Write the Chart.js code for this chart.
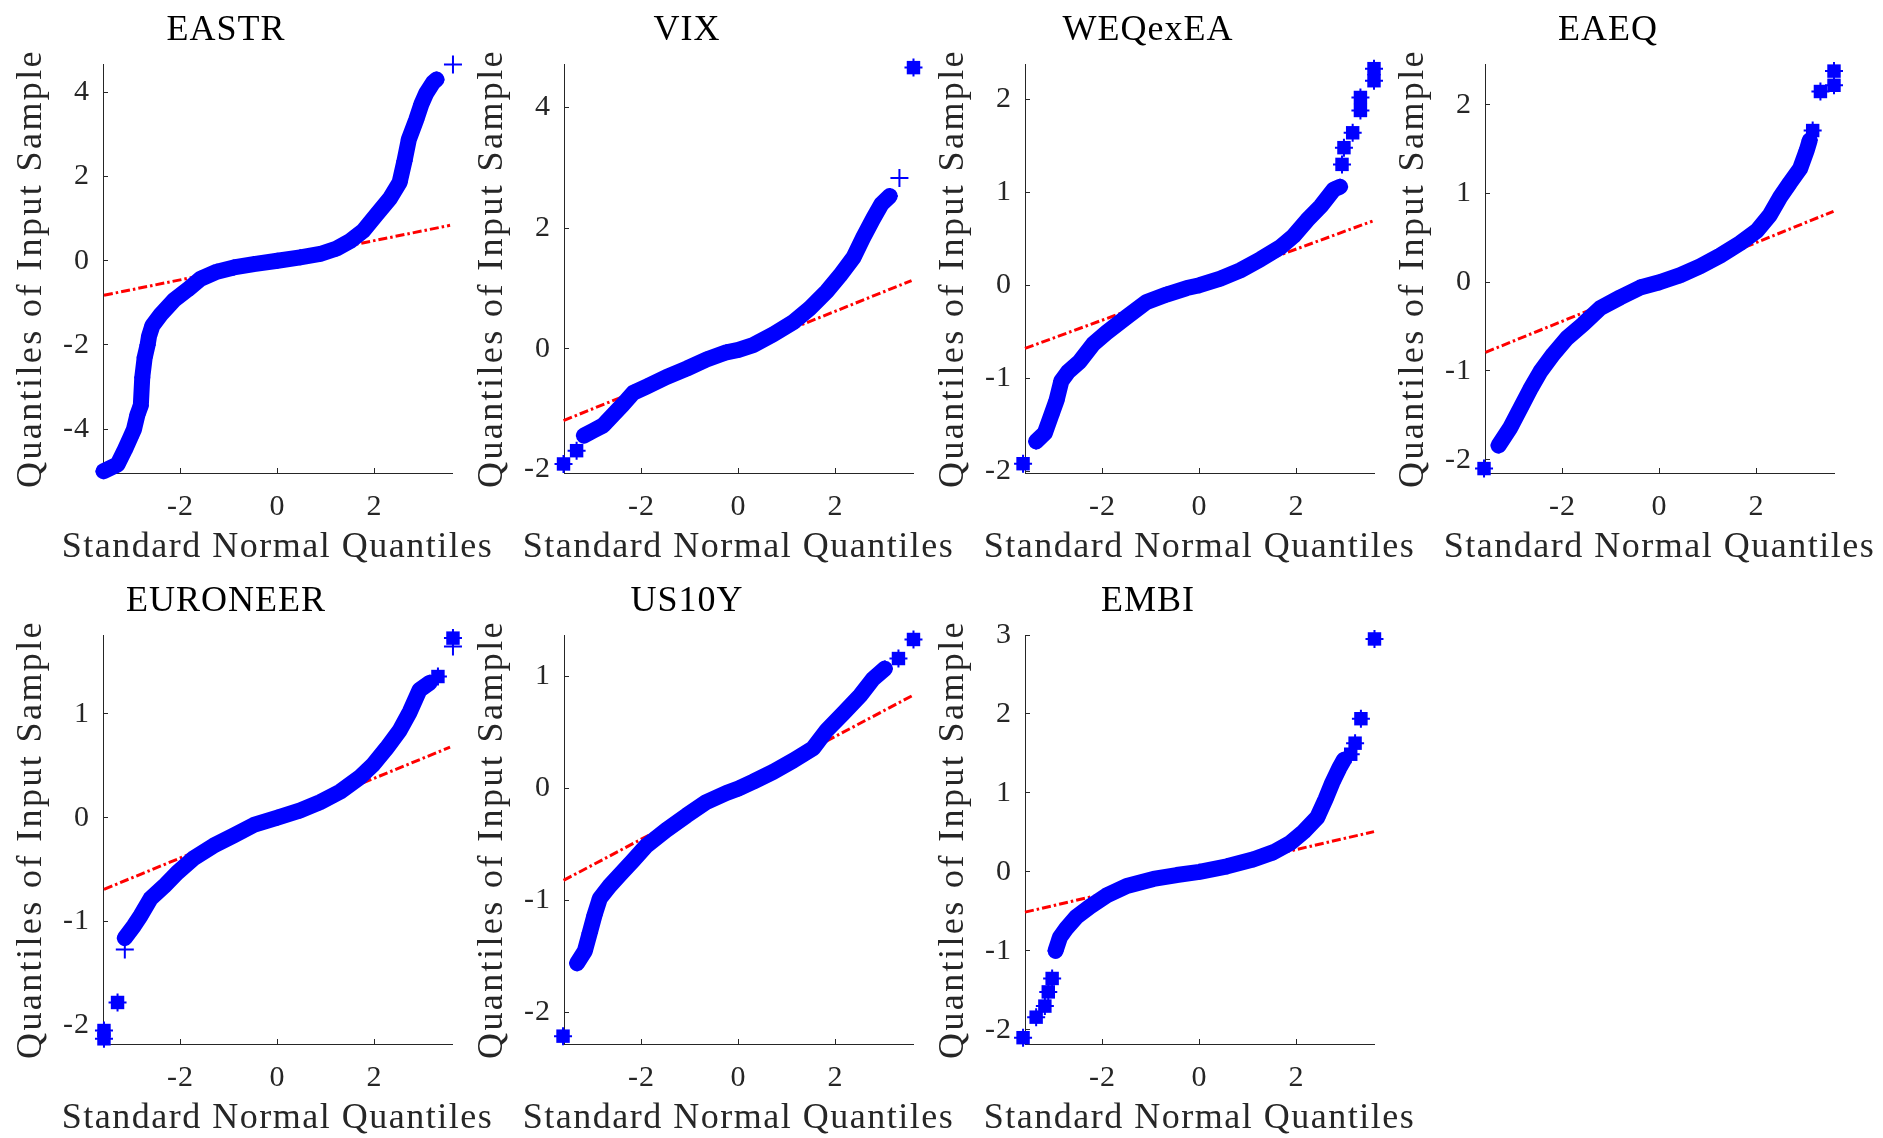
<!DOCTYPE html>
<html>
<head>
<meta charset="UTF-8">
<title>QQ plots</title>
<script src="https://cdn.jsdelivr.net/npm/chart.js@4.4.1/dist/chart.umd.min.js"></script>
<style>
  body { margin: 0; background: #ffffff; width: 1883px; height: 1138px; overflow: hidden; position: relative; }
  canvas { position: absolute; }
</style>
</head>
<body>
<script>
// Panel titles and axis labels
const titles = ['EASTR', 'VIX', 'WEQexEA', 'EAEQ', 'EURONEER', 'US10Y', 'EMBI'];
const xAxisLabel = 'Standard Normal Quantiles';
const yAxisLabel = 'Quantiles of Input Sample';

// x ticks shared by every panel
const xTickValues = [-2, 0, 2];
const xRange = [-3.6, 3.6];

// EASTR
const eastrBand = [[-3.59,-5.0],[-3.30,-4.84],[-3.15,-4.49],[-3.04,-4.21],[-2.96,-4.0],[-2.89,-3.66],[-2.82,-3.44],[-2.79,-2.77],[-2.74,-2.30],[-2.68,-2.0],[-2.65,-1.79],[-2.58,-1.54],[-2.41,-1.28],[-2.14,-0.94],[-1.86,-0.69],[-1.59,-0.43],[-1.25,-0.26],[-0.90,-0.16],[-0.49,-0.08],[0,0],[0.47,0.08],[0.88,0.16],[1.22,0.29],[1.49,0.46],[1.77,0.71],[2.04,1.09],[2.32,1.48],[2.52,1.86],[2.62,2.37],[2.71,2.88],[2.86,3.34],[2.97,3.72],[3.07,3.98],[3.21,4.23],[3.28,4.30]];
const eastrTail = [];
const eastrSingle = [[3.62,4.66]];
const eastrFit = [[-3.58,-0.82],[3.56,0.84]];
const eastrYTicks = [-4, -2, 0, 2, 4];
const eastrYRange = [-5.04, 4.67];

// VIX
const vixBand = [[-3.19,-1.44],[-3.0,-1.36],[-2.79,-1.27],[-2.59,-1.10],[-2.38,-0.92],[-2.17,-0.73],[-1.90,-0.63],[-1.49,-0.47],[-1.07,-0.33],[-0.66,-0.18],[-0.25,-0.06],[0,-0.02],[0.30,0.06],[0.72,0.24],[1.13,0.44],[1.47,0.67],[1.82,0.95],[2.09,1.21],[2.37,1.51],[2.57,1.84],[2.78,2.16],[2.95,2.40],[3.12,2.53]];
const vixTail = [[-3.61,-1.91],[-3.34,-1.69],[3.61,4.66]];
const vixSingle = [[3.32,2.83]];
const vixFit = [[-3.61,-1.19],[3.57,1.13]];
const vixYTicks = [-2, 0, 2, 4];
const vixYRange = [-2.06, 4.72];

// WEQexEA
const weqBand = [[-3.37,-1.68],[-3.19,-1.59],[-3.06,-1.40],[-2.95,-1.24],[-2.85,-1.03],[-2.71,-0.93],[-2.47,-0.82],[-2.19,-0.63],[-1.92,-0.51],[-1.50,-0.34],[-1.09,-0.18],[-0.68,-0.10],[-0.26,-0.03],[0,0],[0.43,0.07],[0.84,0.16],[1.26,0.28],[1.67,0.41],[1.94,0.53],[2.22,0.70],[2.50,0.85],[2.77,1.03],[2.90,1.06]];
const weqTail = [[-3.64,-1.92],[2.94,1.30],[2.98,1.48],[3.16,1.64],[3.32,2.02],[3.32,1.88],[3.60,2.33],[3.60,2.20]];
const weqSingle = [];
const weqFit = [[-3.6,-0.68],[3.57,0.69]];
const weqYTicks = [-2, -1, 0, 1, 2];
const weqYRange = [-2.02, 2.38];

// EAEQ
const eaeqBand = [[-3.32,-1.84],[-3.08,-1.64],[-2.87,-1.42],[-2.67,-1.21],[-2.46,-1.01],[-2.19,-0.81],[-1.91,-0.63],[-1.57,-0.47],[-1.22,-0.29],[-0.81,-0.17],[-0.40,-0.06],[0,0],[0.43,0.08],[0.84,0.18],[1.25,0.30],[1.66,0.44],[2.01,0.58],[2.28,0.76],[2.49,0.96],[2.69,1.12],[2.90,1.28],[3.04,1.49],[3.10,1.60]];
const eaeqTail = [[-3.62,-2.10],[3.16,1.71],[3.32,2.15],[3.60,2.38],[3.60,2.22]];
const eaeqSingle = [];
const eaeqFit = [[-3.59,-0.79],[3.59,0.80]];
const eaeqYTicks = [-2, -1, 0, 1, 2];
const eaeqYRange = [-2.15, 2.46];

// EURONEER
const euroBand = [[-3.15,-1.16],[-2.96,-1.04],[-2.82,-0.94],[-2.62,-0.78],[-2.34,-0.66],[-2.07,-0.53],[-1.73,-0.39],[-1.32,-0.27],[-0.90,-0.17],[-0.49,-0.07],[0,0],[0.47,0.07],[0.88,0.15],[1.29,0.25],[1.70,0.39],[1.97,0.51],[2.25,0.67],[2.52,0.84],[2.73,1.02],[2.93,1.23],[3.14,1.30]];
const euroTail = [[-3.58,-2.05],[-3.58,-2.13],[-3.30,-1.78],[3.31,1.36],[3.62,1.73],[3.62,1.65]];
const euroSingle = [[-3.15,-1.27]];
const euroFit = [[-3.58,-0.69],[3.56,0.68]];
const euroYTicks = [-2, -1, 0, 1];
const euroYRange = [-2.18, 1.76];

// US10Y
const usBand = [[-3.33,-1.56],[-3.17,-1.45],[-3.07,-1.29],[-2.97,-1.13],[-2.86,-0.98],[-2.66,-0.87],[-2.45,-0.77],[-2.17,-0.64],[-1.90,-0.51],[-1.49,-0.37],[-1.07,-0.24],[-0.66,-0.12],[-0.25,-0.04],[0,0],[0.30,0.06],[0.72,0.15],[1.13,0.25],[1.54,0.36],[1.82,0.52],[2.16,0.67],[2.51,0.83],[2.78,0.98],[3.02,1.07]];
const usTail = [[-3.62,-2.21],[3.30,1.16],[3.61,1.33]];
const usSingle = [];
const usFit = [[-3.61,-0.82],[3.59,0.83]];
const usYTicks = [-2, -1, 0, 1];
const usYRange = [-2.28, 1.37];

// EMBI
const embiBand = [[-2.97,-1.0],[-2.88,-0.83],[-2.74,-0.71],[-2.54,-0.57],[-2.26,-0.44],[-1.92,-0.30],[-1.50,-0.18],[-0.95,-0.09],[-0.47,-0.04],[0,0],[0.57,0.07],[1.12,0.16],[1.53,0.25],[1.88,0.37],[2.15,0.51],[2.43,0.69],[2.60,0.92],[2.74,1.13],[2.88,1.31],[2.98,1.42]];
const embiTail = [[-3.64,-2.10],[-3.37,-1.84],[-3.19,-1.70],[-3.12,-1.52],[-3.04,-1.35],[3.12,1.49],[3.21,1.63],[3.33,1.94],[3.61,2.95]];
const embiSingle = [];
const embiFit = [[-3.6,-0.51],[3.60,0.51]];
const embiYTicks = [-2, -1, 0, 1, 2, 3];
const embiYRange = [-2.18, 3.0];

const panels = [
  { band: eastrBand, tail: eastrTail, single: eastrSingle, fit: eastrFit, yTicks: eastrYTicks, yRange: eastrYRange },
  { band: vixBand, tail: vixTail, single: vixSingle, fit: vixFit, yTicks: vixYTicks, yRange: vixYRange },
  { band: weqBand, tail: weqTail, single: weqSingle, fit: weqFit, yTicks: weqYTicks, yRange: weqYRange },
  { band: eaeqBand, tail: eaeqTail, single: eaeqSingle, fit: eaeqFit, yTicks: eaeqYTicks, yRange: eaeqYRange },
  { band: euroBand, tail: euroTail, single: euroSingle, fit: euroFit, yTicks: euroYTicks, yRange: euroYRange },
  { band: usBand, tail: usTail, single: usSingle, fit: usFit, yTicks: usYTicks, yRange: usYRange },
  { band: embiBand, tail: embiTail, single: embiSingle, fit: embiFit, yTicks: embiYTicks, yRange: embiYRange }
];

// Layout (pixels) - axes boxes as in the MATLAB figure
const colLeft = [103, 564, 1025, 1485];
const axisW = 349;
const axisH = 409;
const rowTop = [64, 635];
const yScaleW = 103;   // room for y label + tick labels
const titleH = 64;
const xScaleH = 105;
const padRight = 50;

const BLUE = '#0000ff';
const RED = '#ff0000';
const AXIS = '#262626';
const FONT = 'Liberation Serif';

// MATLAB/LaTeX text is a bit wider than Times
const spacingPlugin = {
  id: 'spacing',
  beforeDraw(chart) { chart.ctx.letterSpacing = '1px'; }
};

// axis titles drawn without Chart.js' maxWidth squeeze
const axisTitlePlugin = {
  id: 'axisTitles',
  afterDraw(chart, args, opts) {
    const { ctx, chartArea } = chart;
    ctx.save();
    ctx.font = '36px "' + FONT + '"';
    ctx.fillStyle = AXIS;
    ctx.textAlign = 'center';
    ctx.textBaseline = 'middle';
    ctx.letterSpacing = '1.5px';
    ctx.fillText(opts.x, (chartArea.left + chartArea.right) / 2, chartArea.bottom + 74.5);
    ctx.letterSpacing = '2.4px';
    ctx.translate(chartArea.left - 71, (chartArea.top + chartArea.bottom) / 2);
    ctx.rotate(-Math.PI / 2);
    ctx.fillText(opts.y, 0, 0);
    ctx.restore();
  }
};

panels.forEach((p, i) => {
  const row = i < 4 ? 0 : 1;
  const col = i % 4;
  const canvas = document.createElement('canvas');
  canvas.width = yScaleW + axisW + padRight;
  canvas.height = titleH + axisH + xScaleH;
  canvas.style.left = (colLeft[col] - yScaleW) + 'px';
  canvas.style.top = (rowTop[row] - titleH) + 'px';
  document.body.appendChild(canvas);

  new Chart(canvas, {
    type: 'scatter',
    data: {
      datasets: [
        {
          data: p.band, showLine: true, borderColor: BLUE, borderWidth: 16,
          borderCapStyle: 'round', borderJoinStyle: 'round',
          pointStyle: 'cross', pointRadius: 8, pointBorderWidth: 2,
          pointBorderColor: BLUE, order: 1, clip: false
        },
        {
          data: p.tail, pointStyle: 'rect', pointRadius: 9.5,
          backgroundColor: BLUE, borderColor: BLUE, pointBorderWidth: 0,
          order: 1, clip: false
        },
        {
          data: p.tail.concat(p.single), pointStyle: 'cross', pointRadius: 9,
          pointBorderWidth: 2, borderColor: BLUE, order: 1, clip: false
        },
        {
          data: p.fit, showLine: true, borderColor: RED, borderWidth: 3,
          borderDash: [9, 3, 2.5, 3], pointRadius: 0, order: 2, clip: false
        }
      ]
    },
    options: {
      animation: false,
      responsive: false,
      events: [],
      layout: { padding: { right: padRight } },
      plugins: {
        legend: { display: false },
        tooltip: { enabled: false },
        title: {
          display: true, text: titles[i], color: '#000000',
          font: { family: FONT, size: 36, weight: 'normal' },
          padding: { top: 9.4, bottom: 11.4 }
        },
        axisTitles: { x: xAxisLabel, y: yAxisLabel }
      },
      scales: {
        x: {
          type: 'linear', position: 'bottom', min: xRange[0], max: xRange[1],
          afterFit: s => { s.height = xScaleH; },
          afterBuildTicks: s => { s.ticks = xTickValues.map(v => ({ value: v })); },
          grid: { drawOnChartArea: false, tickLength: -5, color: AXIS, lineWidth: 1 },
          border: { color: AXIS, width: 1 },
          ticks: { color: AXIS, padding: 21.5, maxRotation: 0, font: { family: FONT, size: 30 } }
        },
        y: {
          type: 'linear', position: 'left', min: p.yRange[0], max: p.yRange[1],
          afterFit: s => { s.width = yScaleW; },
          afterBuildTicks: s => { s.ticks = p.yTicks.map(v => ({ value: v })); },
          grid: { drawOnChartArea: false, tickLength: -5, color: AXIS, lineWidth: 1 },
          border: { color: AXIS, width: 1 },
          ticks: { color: AXIS, padding: 18, font: { family: FONT, size: 30 } }
        }
      }
    },
    plugins: [spacingPlugin, axisTitlePlugin]
  });
});
</script>
</body>
</html>
